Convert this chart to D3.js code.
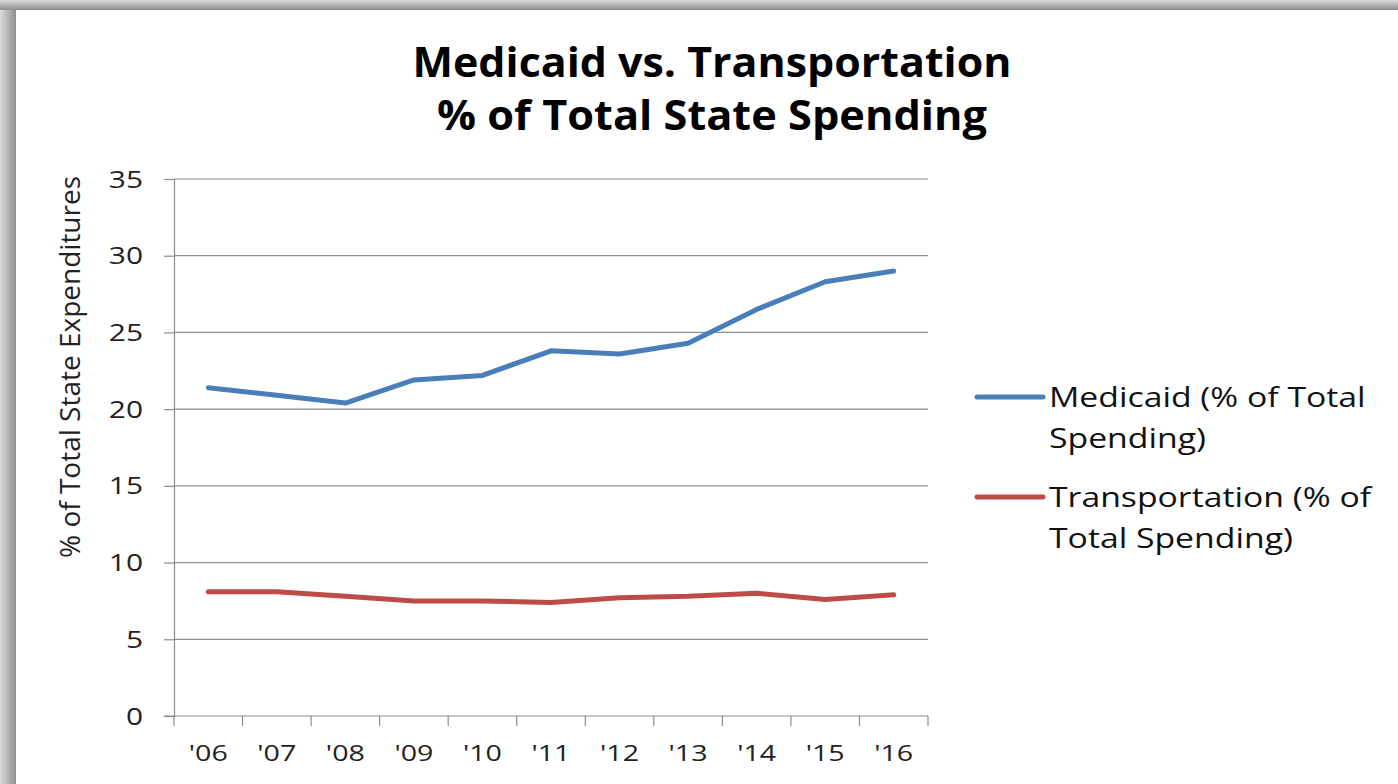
<!DOCTYPE html>
<html>
<head>
<meta charset="utf-8">
<script src="https://cdn.jsdelivr.net/npm/d3@7"></script>
<style>
  html, body { margin: 0; padding: 0; background: #fff; }
  svg { display: block; }
</style>
</head>
<body>
<div id="vizcont"></div>
<script>
// data
var years = ["'06", "'07", "'08", "'09", "'10", "'11", "'12", "'13", "'14", "'15", "'16"];
var medicaid = [21.4, 20.9, 20.4, 21.9, 22.2, 23.8, 23.6, 24.3, 26.5, 28.3, 29.0];
var transportation = [8.1, 8.1, 7.8, 7.5, 7.5, 7.4, 7.7, 7.8, 8.0, 7.6, 7.9];
var seriesNames = ["Medicaid (% of Total Spending)", "Transportation (% of Total Spending)"];
var legendLines = [["Medicaid (% of Total", "Spending)"], ["Transportation (% of", "Total Spending)"]];
var yTicks = [0, 5, 10, 15, 20, 25, 30, 35];
var titleLines = ["Medicaid vs. Transportation", "% of Total State Spending"];

function draw_chart() {
  var W = 1398, H = 784;
  var font = "'Open Sans', sans-serif";
  var colors = ["#4a7ebb", "#be4b48"];
  var stretch = 1.3; // the reference is stretched sideways
  var titleWidths = [599, 550];

  var svg = d3.select("#vizcont")
    .append("svg")
    .attr("width", W)
    .attr("height", H);

  // frame shadow on the left and top
  var defs = svg.append("defs");
  var gl = defs.append("linearGradient").attr("id", "shL")
    .attr("x1", 0).attr("x2", 1).attr("y1", 0).attr("y2", 0);
  gl.append("stop").attr("offset", 0).attr("stop-color", "#dcdcdc");
  gl.append("stop").attr("offset", 1).attr("stop-color", "#8e8e8e");
  var gt = defs.append("linearGradient").attr("id", "shT")
    .attr("x1", 0).attr("x2", 0).attr("y1", 0).attr("y2", 1);
  gt.append("stop").attr("offset", 0).attr("stop-color", "#dcdcdc");
  gt.append("stop").attr("offset", 1).attr("stop-color", "#8e8e8e");

  svg.append("rect").attr("x", 0).attr("y", 0).attr("width", 16).attr("height", H).attr("fill", "url(#shL)");
  svg.append("rect").attr("x", 0).attr("y", 0).attr("width", W).attr("height", 10).attr("fill", "url(#shT)");
  svg.append("rect").attr("x", 16).attr("y", 10).attr("width", W - 16).attr("height", H - 10).attr("fill", "#fff");

  var margin = {top: 179, left: 174, right: 470, bottom: 68};
  var width = W - margin.left - margin.right;
  var height = H - margin.top - margin.bottom;

  var g = svg.append("g")
    .attr("transform", "translate(" + margin.left + "," + margin.top + ")");

  var x = d3.scaleBand().domain(years).range([0, width]).padding(0);
  var y = d3.scaleLinear().domain([0, 35]).range([height, 0]);

  // gridlines
  g.append("g")
    .selectAll("line")
    .data(yTicks.filter(function(d) { return d > 0; }))
    .enter().append("line")
    .attr("x1", 0).attr("x2", width)
    .attr("y1", function(d) { return y(d); })
    .attr("y2", function(d) { return y(d); })
    .attr("stroke", "#8c8c8c")
    .attr("stroke-width", 1.2);

  // y axis
  var yAxis = g.append("g")
    .call(d3.axisLeft(y).tickValues(yTicks).tickSize(10).tickPadding(21));
  yAxis.select(".domain").attr("stroke", "#8c8c8c").attr("stroke-width", 1.2);
  yAxis.selectAll(".tick line").attr("stroke", "#8c8c8c").attr("stroke-width", 1.2);
  yAxis.selectAll(".tick text")
    .style("font-family", font).style("font-size", "23px").attr("fill", "#222")
    .attr("dy", "0.35em");

  // x axis: ticks sit on band edges
  var xAxisG = g.append("g").attr("transform", "translate(0," + height + ")");
  xAxisG.append("line").attr("x1", -10).attr("x2", width)
    .attr("stroke", "#8c8c8c").attr("stroke-width", 1.2);
  var edges = years.map(function(d) { return x(d); }).concat([width]);
  xAxisG.selectAll("line.tk")
    .data(edges)
    .enter().append("line").attr("class", "tk")
    .attr("x1", function(d) { return d; }).attr("x2", function(d) { return d; })
    .attr("y1", 0).attr("y2", 10)
    .attr("stroke", "#8c8c8c").attr("stroke-width", 1.2);
  xAxisG.selectAll("text")
    .data(years)
    .enter().append("text")
    .attr("x", function(d) { return x(d) + x.bandwidth() / 2; })
    .attr("y", 45)
    .attr("text-anchor", "middle")
    .style("font-family", font).style("font-size", "22px").attr("fill", "#222")
    .text(function(d) { return d; });

  // lines
  var line = d3.line()
    .x(function(d, i) { return x(years[i]) + x.bandwidth() / 2; })
    .y(function(d) { return y(d); });

  [medicaid, transportation].forEach(function(s, i) {
    g.append("path")
      .datum(s)
      .attr("d", line)
      .attr("fill", "none")
      .attr("stroke", colors[i])
      .attr("stroke-width", 5)
      .attr("stroke-linejoin", "round")
      .attr("stroke-linecap", "round");
  });

  // widen axis text like the reference, keeping its anchor point
  svg.selectAll("text").each(function() {
    var t = d3.select(this);
    var len = this.getComputedTextLength();
    var anchor = t.attr("text-anchor") || getComputedStyle(this).textAnchor || "start";
    var x0 = +t.attr("x") || 0;
    var wide = len * stretch;
    var shift = anchor === "end" ? wide : anchor === "middle" ? wide / 2 : 0;
    t.attr("text-anchor", "start")
      .attr("x", x0 - shift)
      .attr("textLength", wide)
      .attr("lengthAdjust", "spacingAndGlyphs");
  });

  // y axis title
  svg.append("text")
    .attr("transform", "translate(80," + (margin.top + 188) + ") rotate(-90)")
    .attr("text-anchor", "middle")
    .style("font-family", font).style("font-size", "28px").attr("fill", "#222")
    .text("% of Total State Expenditures");

  // chart title
  svg.selectAll("text.title")
    .data(titleLines)
    .enter().append("text").attr("class", "title")
    .attr("x", function(d, i) { return 712 - titleWidths[i] / 2; })
    .attr("y", function(d, i) { return 77 + i * 53; })
    .style("font-family", font).style("font-size", "41px").style("font-weight", "bold")
    .attr("fill", "#000")
    .attr("textLength", function(d, i) { return titleWidths[i]; })
    .attr("lengthAdjust", "spacingAndGlyphs")
    .text(function(d) { return d; });

  // legend
  var leg = svg.append("g");
  legendLines.forEach(function(lines, i) {
    var ly = 397 + i * 100;
    leg.append("line")
      .attr("x1", 977).attr("x2", 1043)
      .attr("y1", ly).attr("y2", ly)
      .attr("stroke", colors[i]).attr("stroke-width", 5)
      .attr("stroke-linecap", "round");
    leg.selectAll("text.l" + i)
      .data(lines)
      .enter().append("text").attr("class", "l" + i)
      .attr("x", 1049)
      .attr("y", function(d, j) { return ly + 10 + j * 41; })
      .style("font-family", font).style("font-size", "27px").attr("fill", "#111")
      .text(function(d) { return d; })
      .each(function() {
        var len = this.getComputedTextLength();
        d3.select(this).attr("textLength", len * 1.25).attr("lengthAdjust", "spacingAndGlyphs");
      });
  });
}

draw_chart();
</script>
</body>
</html>
